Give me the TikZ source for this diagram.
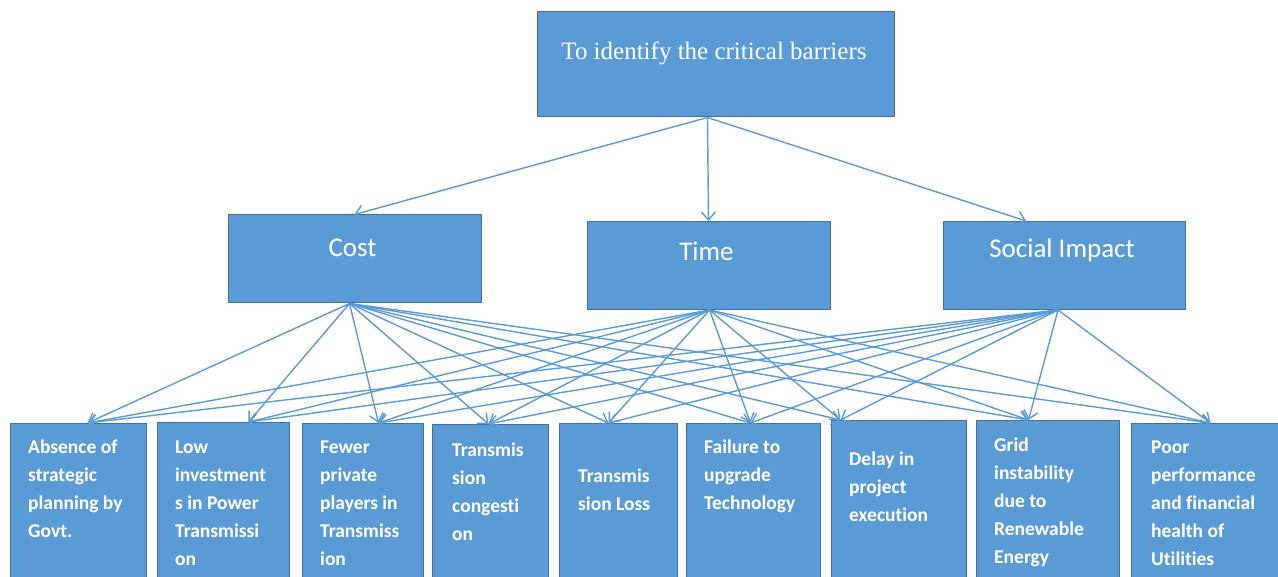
\documentclass[tikz,border=0pt]{standalone}
\usepackage{fontspec}
\usepackage{xcolor}
\usepackage{tikz}
\setmainfont{Carlito}[Ligatures=NoCommon]
\newfontfamily\titlefont{Liberation Serif}
\usetikzlibrary{arrows.meta}

\definecolor{boxblue}{HTML}{5B9BD5}
\definecolor{boxedge}{HTML}{41719C}
\newcommand{\bstrut}{\rule{0pt}{20pt}}

\tikzset{
	box/.style={draw=boxedge, fill=boxblue, line width=1pt, inner sep=0pt},
	arr/.style={draw=boxblue, line width=1.4pt, -{Straight Barb[length=8pt,width=14pt]}},
	factor/.style={text=white, font=\fontsize{27}{32}\selectfont, anchor=base, inner sep=0pt},
	barrier/.style={text=white, font=\bfseries\fontsize{19.5}{28}\selectfont, align=left, anchor=north west, inner sep=0pt, yshift=20pt}
}

\begin{document}
\begin{tikzpicture}[x=1pt,y=-1pt]
\useasboundingbox (0,0) rectangle (1278,577);
\clip (0,0) rectangle (1278,577);

\node[box, minimum width=357, minimum height=105] (goal) at (715.5,64.5) {};
\node[text=white, font=\titlefont\fontsize{25}{30}\selectfont, anchor=base, inner sep=0pt] (goaltext) at (714,60) {To identify the critical barriers};

\foreach \n/\x/\y/\w/\ty/\t in {cost/354.5/259/253/257/Cost, time/708.5/265.5/243/261/Time, soc/1064/265.5/242/258/Social Impact}{
	\node[box, minimum width=\w, minimum height=88] (\n) at (\x,\y) {};
	\node[factor] (\n text) at (\x-2,\ty) {\t};
}

\foreach \i/\x/\y/\w in {1/10/423/136, 2/157/422/132, 3/302/423/121, 4/432/424/116, 5/559/423/118, 6/686/423/134, 7/831/420/135, 8/976/420/143, 9/1131/423/150}{
	\node[box, anchor=north west, minimum width=\w, minimum height=180] (b\i) at (\x,\y) {};
}

\node[barrier] (t1) at (28,453) {\bstrut Absence of\\strategic\\planning by\\Govt.};
\node[barrier] (t2) at (175,453) {\bstrut Low\\investment\\s in Power\\Transmissi\\on};
\node[barrier] (t3) at (320,453) {\bstrut Fewer\\private\\players in\\Transmiss\\ion};
\node[barrier] (t4) at (452,456) {\bstrut Transmis\\sion\\congesti\\on};
\node[barrier] (t5) at (578,482) {\bstrut Transmis\\sion Loss};
\node[barrier] (t6) at (704,453) {\bstrut Failure to\\upgrade\\Technology};
\node[barrier] (t7) at (849,465) {\bstrut Delay in\\project\\execution};
\node[barrier] (t8) at (994,451) {\bstrut Grid\\instability\\due to\\Renewable\\Energy};
\node[barrier] (t9) at (1151,453) {\bstrut Poor\\performance\\and financial\\health of\\Utilities};

\draw[arr] ([xshift=-8]goal.south) -- (cost.north);
\draw[arr] ([xshift=-8]goal.south) -- (time.north);
\draw[arr] ([xshift=-8]goal.south) -- ([xshift=-38]soc.north);

\foreach \m/\mdx in {cost/-5, time/1, soc/-6}{
	\foreach \b/\dx in {b1/9, b2/25, b3/15.5, b4/-2, b5/-10, b6/-3, b7/-58.5, b8/-19.5, b9/4}{
		\draw[arr] ([xshift=\mdx]\m.south) -- ([xshift=\dx]\b.north);
	}
}

\end{tikzpicture}
\end{document}
